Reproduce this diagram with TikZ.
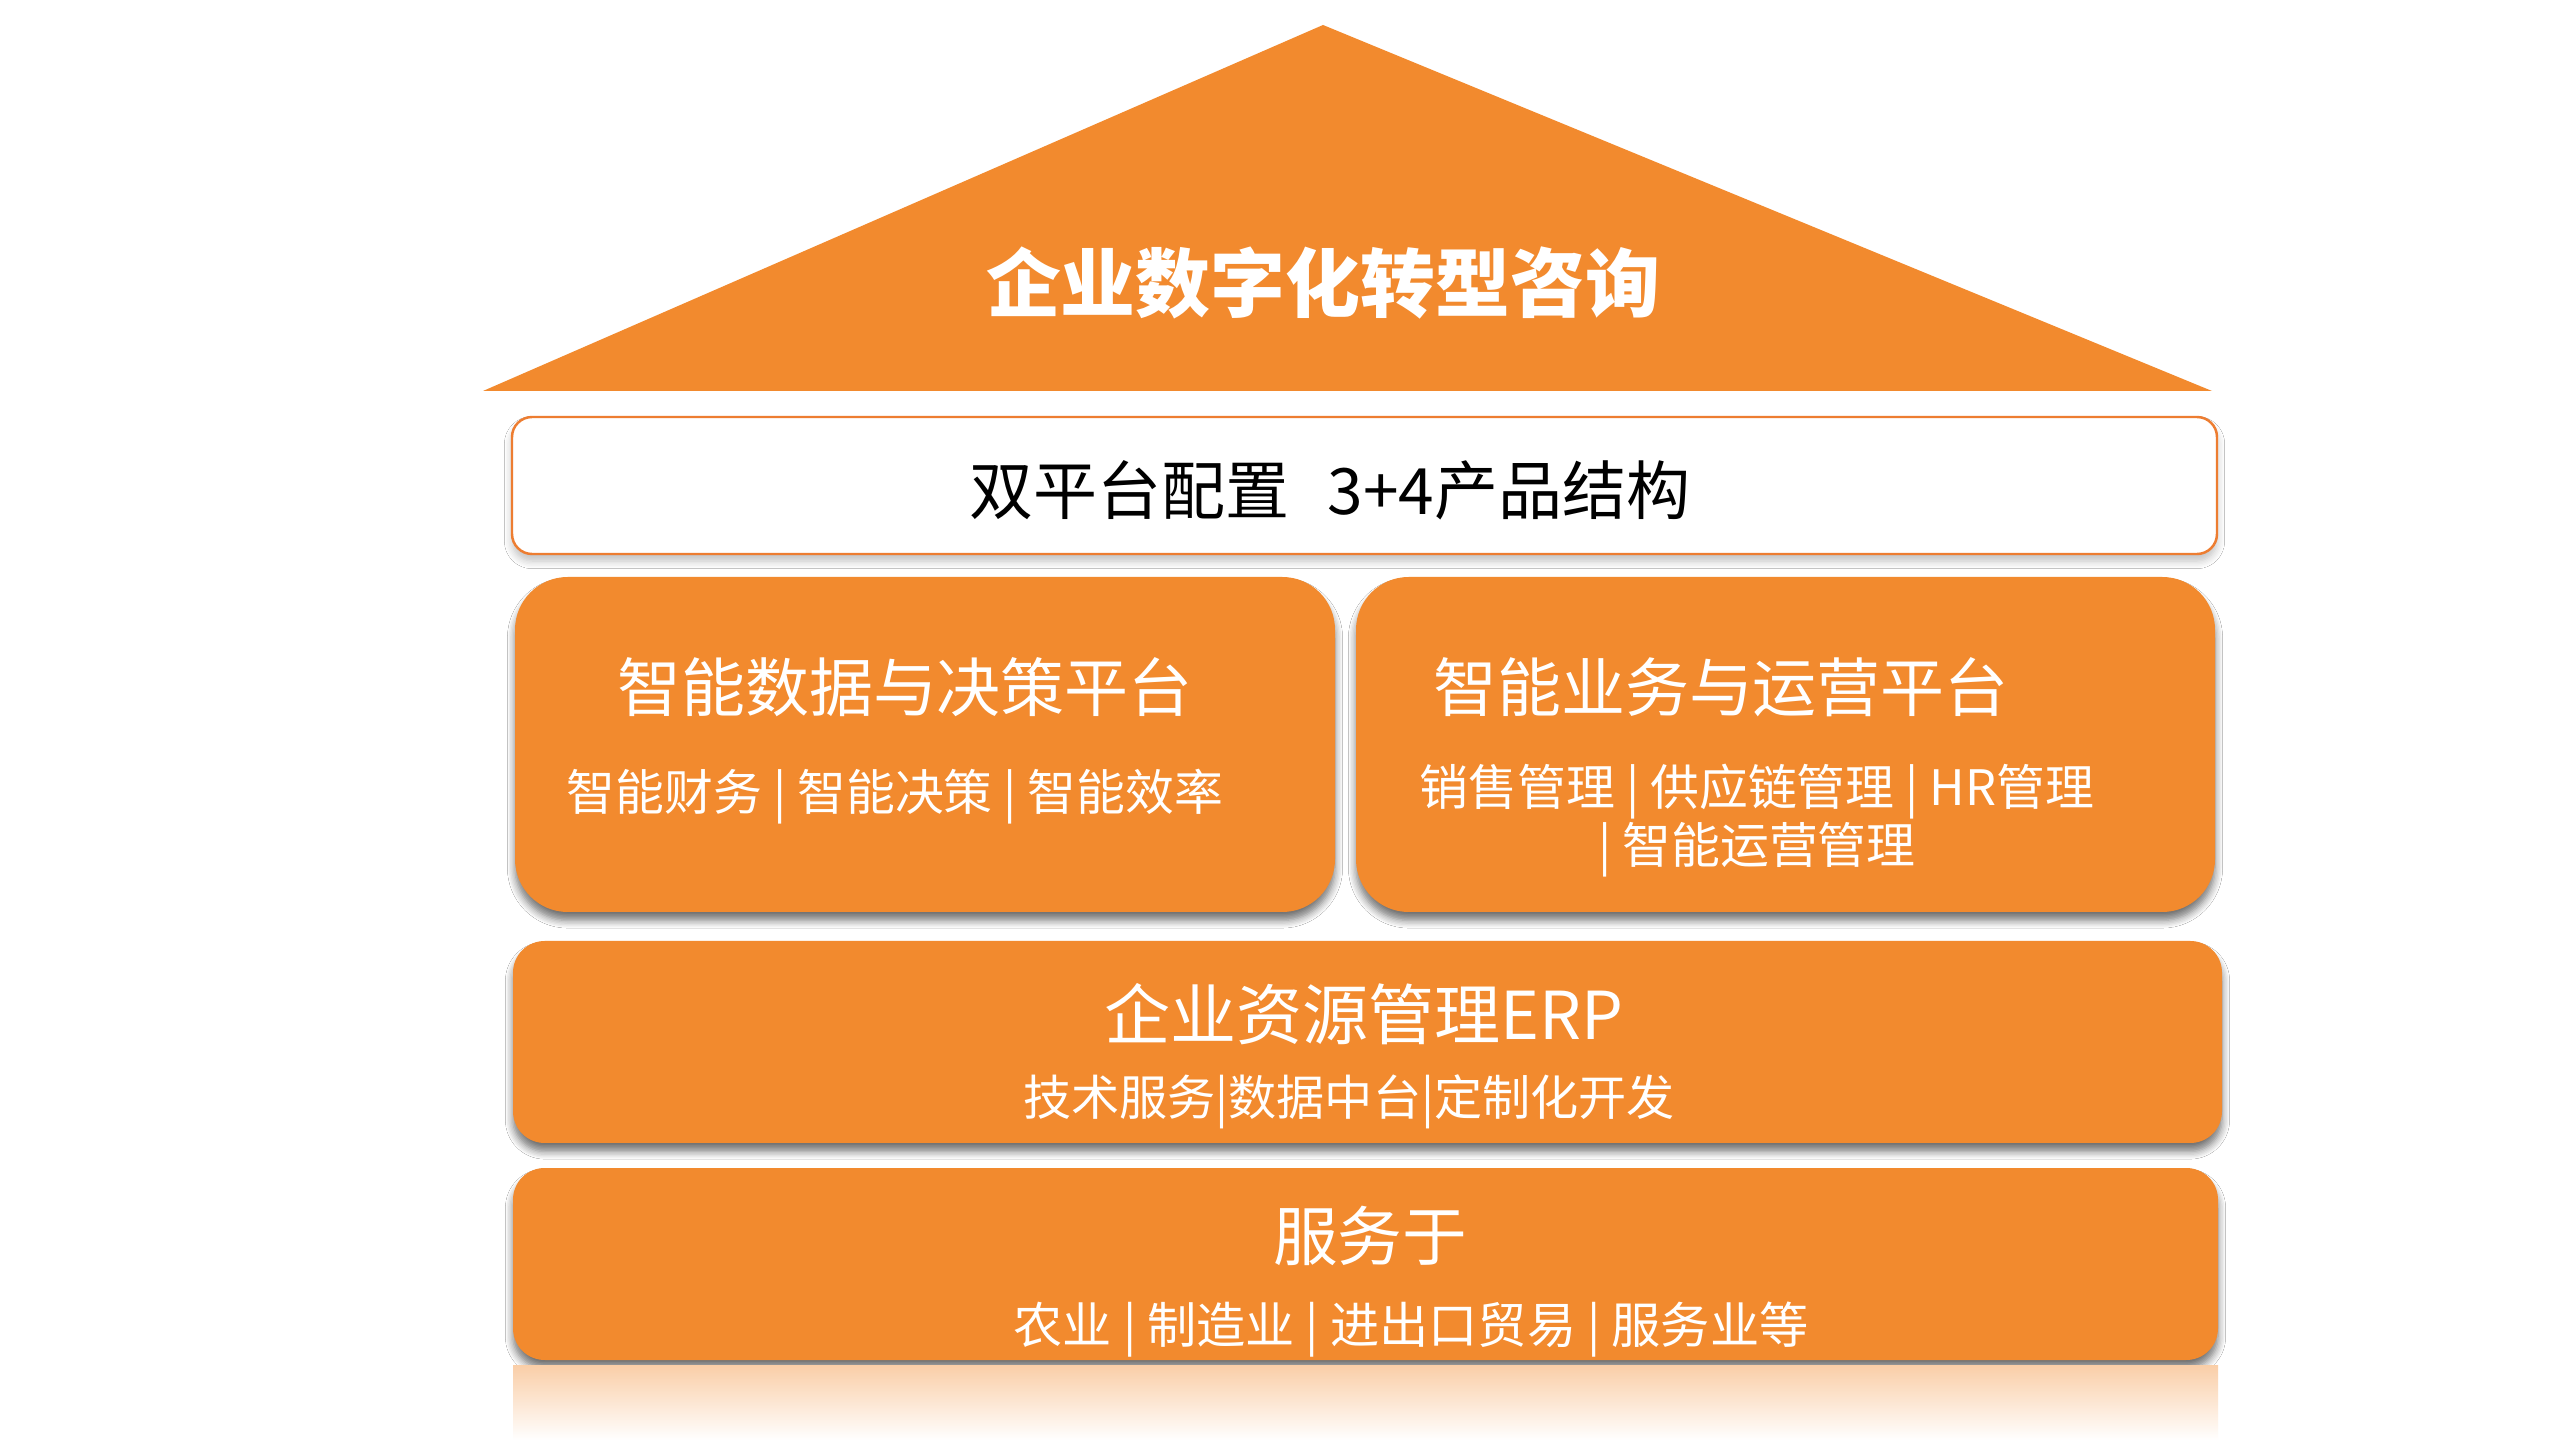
\documentclass[tikz,border=0pt]{standalone}
\usepackage{fontspec}
\setmainfont{Noto Sans CJK SC}
\usetikzlibrary{shadows.blur}
\definecolor{tcorange}{RGB}{242,138,46}
\definecolor{tcedge}{RGB}{237,125,49}
\tikzset{
  box/.style={rounded corners=#1, fill=tcorange, draw=none,
    blur shadow={shadow xshift=0pt, shadow yshift=-2.4pt, shadow blur steps=6, shadow opacity=55}},
  wbox/.style={rounded corners=5.7pt, fill=white, draw=tcedge, line width=0.7pt,
    blur shadow={shadow xshift=0pt, shadow yshift=-2pt, shadow blur steps=6, shadow opacity=25}},
  lbl/.style={inner sep=0pt, text=white, font=#1, align=center},
}
\begin{document}
\begin{tikzpicture}[x=0.1mm,y=-0.1mm]
\useasboundingbox[fill=white] (0,0) rectangle (2560,1440);
% roof
\fill[tcorange] (1323,25) -- (2212,391) -- (483,391) -- cycle;
\node[lbl={\fontsize{21.3pt}{25pt}\selectfont\bfseries}] (title) at (1323,283) {企业数字化转型咨询};
% white box
\node[wbox, minimum width=170.5mm, minimum height=13.7mm, inner sep=0pt] (wb) at (1364.5,485.5) {};
\node[lbl={\fontsize{18.2pt}{21pt}\selectfont}, text=black] (wt) at (1330,490) {双平台配置\hspace{0.6em}3+4产品结构};
% platforms
\node[box=15pt, minimum width=82.0mm, minimum height=33.5mm, inner sep=0pt] (lb) at (925,744.5) {};
\node[box=15pt, minimum width=85.9mm, minimum height=33.5mm, inner sep=0pt] (rb) at (1785.5,744.5) {};
\node[lbl={\fontsize{18.2pt}{22pt}\selectfont}] (lt) at (905,687) {智能数据与决策平台};
\node[lbl={\fontsize{13.9pt}{16pt}\selectfont}] (ls) at (895,797) {智能财务 | 智能决策 | 智能效率};
\node[lbl={\fontsize{18.2pt}{22pt}\selectfont}] (rt) at (1721,687) {智能业务与运营平台};
\node[lbl={\fontsize{13.9pt}{16.5pt}\selectfont}] (rs) at (1757,821) {销售管理 | 供应链管理 | HR管理\\| 智能运营管理};
% ERP
\node[box=9pt, minimum width=170.9mm, minimum height=20.2mm, inner sep=0pt] (eb) at (1367.5,1042) {};
\node[lbl={\fontsize{18.8pt}{22pt}\selectfont}] (et) at (1364,1014) {企业资源管理ERP};
\node[lbl={\fontsize{13.7pt}{16pt}\selectfont}] (es) at (1349,1102) {技术服务|数据中台|定制化开发};
% service
\node[box=9pt, minimum width=170.5mm, minimum height=19.2mm, inner sep=0pt] (sb) at (1365.5,1264) {};
\node[lbl={\fontsize{18.4pt}{22pt}\selectfont}] (st) at (1370,1236) {服务于};
\node[lbl={\fontsize{14pt}{16pt}\selectfont}] (ss) at (1411,1330) {农业 | 制造业 | 进出口贸易 | 服务业等};
% reflection
\shade[top color=tcorange!42, bottom color=white] (513,1365) rectangle (2218,1440);
\end{tikzpicture}
\end{document}
